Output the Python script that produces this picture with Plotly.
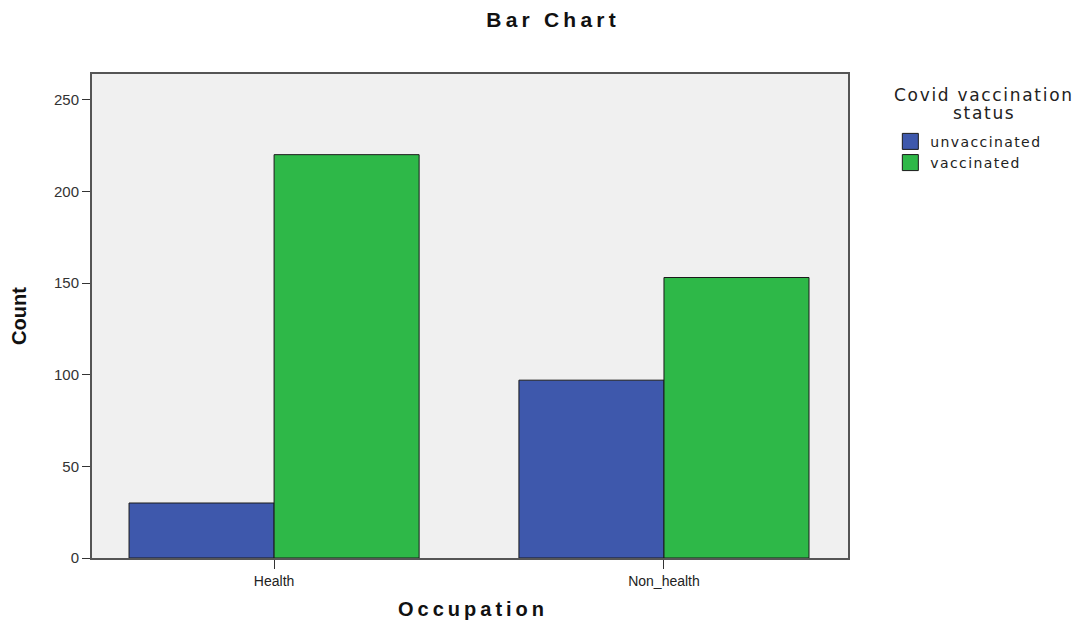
import plotly.graph_objects as go

# Data
occupations = ["Health", "Non_health"]
unvaccinated = [30, 97]
vaccinated = [220, 153]
y_ticks = [0, 50, 100, 150, 200, 250]

BLUE = "#3e58ac"
GREEN = "#2eb848"
FONT = "Liberation Sans, Arial, sans-serif"
WIDE = "DejaVu Sans, Verdana, sans-serif"
HAIR, THIN = "\u200a", "\u2009"

W, H = 1066, 616          # page has an 8px body margin
x_pos = list(range(len(occupations)))


def spaced(text, sp):
    return sp.join(text)


fig = go.Figure()
for name, vals, col in [("unvaccinated", unvaccinated, BLUE), ("vaccinated", vaccinated, GREEN)]:
    fig.add_trace(go.Bar(x=x_pos, y=vals, name=name, showlegend=False,
                         marker=dict(color=col, line=dict(color="#1a1a1a", width=1))))
    # legend-only entry to get a larger square swatch
    fig.add_trace(go.Scatter(x=[None], y=[None], mode="markers", name=spaced(name, HAIR),
                             marker=dict(symbol="square", size=16, color=col,
                                         line=dict(color="#1a1a1a", width=1))))

# legend title, one annotation per line for tight line spacing
legend_title = ["Covid vaccination", "status"]
annos = []
for i, line in enumerate(legend_title):
    annos.append(dict(text=spaced(line, HAIR), xref="paper", yref="paper",
                      x=(983 - 92) / 756, y=(558 - (95 + 18 * i)) / 484,
                      xanchor="center", yanchor="middle", showarrow=False,
                      font=dict(family=WIDE, size=17, color="#222")))

# x axis title as annotation (standoff is clipped when automargin is off)
annos.append(dict(text="<b>" + spaced("Occupation", THIN) + "</b>", xref="paper", yref="paper",
                  x=(471 - 92) / 756, y=(558 - 609) / 484, xanchor="center", yanchor="middle",
                  showarrow=False, font=dict(size=20, color="#111")))

fig.update_layout(
    width=W, height=H,
    barmode="group", bargap=0.256, bargroupgap=0,
    paper_bgcolor="white", plot_bgcolor="#f0f0f0",
    margin={'t': 66, 'b': 66, 'l': 84, 'r': 226, 'autoexpand': False},
    font=dict(family=FONT, size=13, color="#222"),
    title=dict(text="<b>" + spaced("Bar Chart", THIN) + "</b>", x=543 / W, xanchor="center",
               y=1 - 12 / H, yanchor="middle",
               font=dict(size=21, color="#111")),
    legend=dict(x=1.056, xanchor="left", y=0.893, yanchor="top",
                font=dict(family=WIDE, size=14, color="#222"), tracegroupgap=0,
                itemwidth=30, bgcolor="rgba(0,0,0,0)"),
    annotations=annos,
    showlegend=True,
)

fig.update_xaxes(
    range=[-0.467, 1.472], automargin=False,
    tickvals=x_pos, ticktext=occupations,
    ticks="outside", ticklen=9, tickcolor="#333",
    showgrid=False, zeroline=False,
    showline=True, linecolor="#555", linewidth=2, mirror=True,
    tickfont=dict(size=14, color="#222"),
)
fig.update_yaxes(
    range=[0, 264], automargin=False,
    tickvals=y_ticks,
    ticks="outside", ticklen=8, tickcolor="#333",
    showgrid=False, zeroline=False,
    showline=True, linecolor="#555", linewidth=2, mirror=True,
    tickfont=dict(size=15, color="#333"),
    title=dict(text="<b>Count</b>", font=dict(family="Liberation Sans Narrow, " + FONT, size=20, color="#111"),
               standoff=30),
)

fig.write_html("out.html")
